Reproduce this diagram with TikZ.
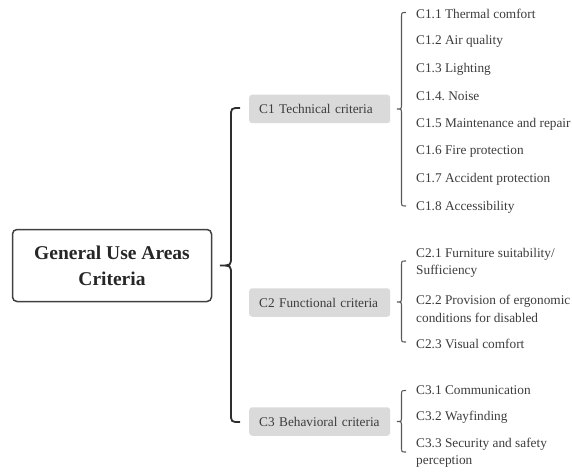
\documentclass[tikz,border=0pt]{standalone}
\usepackage{fontspec}
\setmainfont{Liberation Serif}
\usetikzlibrary{calc}
\frenchspacing
\definecolor{boxgray}{HTML}{DADADA}
\definecolor{txt}{HTML}{3C3C3C}
\definecolor{roottxt}{HTML}{262626}
\definecolor{rootline}{HTML}{404040}
\definecolor{mainbrace}{HTML}{2E2E2E}
\definecolor{subbrace}{HTML}{5A5A5A}
% #1 x of line, #2 top y, #3 bottom y, #4 tip y, #5 tip depth, #6 end reach, #7 radius
\newcommand{\mybrace}[7]{%
  (#1+#6,#2) .. controls (#1,#2) .. (#1,#2+#7) -- (#1,#4-#7)
  .. controls (#1,#4) .. (#1-#5,#4) .. controls (#1,#4) .. (#1,#4+#7)
  -- (#1,#3-#7) .. controls (#1,#3) .. (#1+#6,#3)}
\begin{document}
\begin{tikzpicture}[x=1pt,y=-1pt,
  item/.style={anchor=west, inner sep=0pt, text=txt, align=left,
    font=\fontsize{13.3}{17.5}\selectfont},
  crit/.style={anchor=west, fill=boxgray, rounded corners=3pt, text=txt,
    text width=121pt, inner xsep=10pt, minimum height=28.5pt, align=left,
    font=\fontsize{13.3}{16}\selectfont},
  rootbox/.style={draw=rootline, line width=1.5pt, rounded corners=4.5pt,
    minimum width=199pt, minimum height=72pt, align=center, text=roottxt,
    font=\fontsize{19.5}{26}\selectfont\bfseries},
  mainb/.style={draw=mainbrace, line width=1.8pt},
  subb/.style={draw=subbrace, line width=1.1pt}]
\useasboundingbox (0,0) rectangle (572,473);

\node[rootbox] (root) at (112,265.5) {General Use Areas\\Criteria};

\node[crit] (c1) at (249,109) {C1 Technical criteria};
\node[crit] (c2) at (249,302.5) {C2 Functional criteria};
\node[crit] (c3) at (249,421.5) {C3 Behavioral criteria};

\node[item] (c11) at (416,13.5) {C1.1 Thermal comfort};
\node[item] (c12) at (416,41.5) {C1.2 Air quality};
\node[item] (c13) at (416,69) {C1.3 Lighting};
\node[item] (c14) at (416,96.5) {C1.4. Noise};
\node[item] (c15) at (416,124.5) {C1.5 Maintenance and repair};
\node[item] (c16) at (416,152) {C1.6 Fire protection};
\node[item] (c17) at (416,179.5) {C1.7 Accident protection};
\node[item] (c18) at (416,207.5) {C1.8 Accessibility};

\node[item] (c21) at (416,263) {C2.1 Furniture suitability/\\Sufficiency};
\node[item] (c22) at (416,309) {C2.2 Provision of ergonomic\\conditions for disabled};
\node[item] (c23) at (416,343.5) {C2.3 Visual comfort};

\node[item] (c31) at (416,390.5) {C3.1 Communication};
\node[item] (c32) at (416,417.5) {C3.2 Wayfinding};
\node[item] (c33) at (416,452.5) {C3.3 Security and safety\\perception};

% braces
\path[mainb] \mybrace{231}{108}{422}{265.5}{11}{9}{9};
\path[subb] \mybrace{401.5}{12.5}{206}{109}{4.5}{4.5}{5};
\path[subb] \mybrace{401.5}{261}{342}{302}{4.5}{4.5}{5};
\path[subb] \mybrace{401.5}{390.5}{452}{421.5}{4.5}{4.5}{5};
\end{tikzpicture}
\end{document}
